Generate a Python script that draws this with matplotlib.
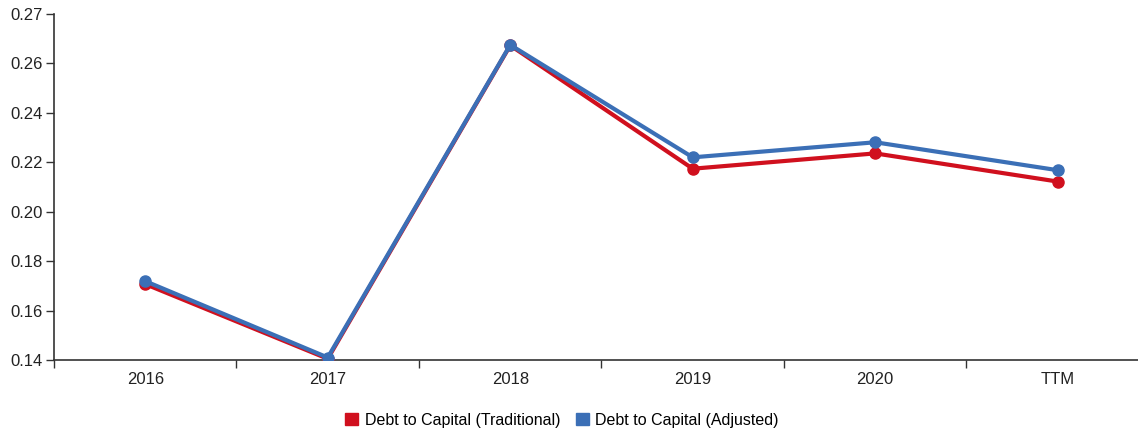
import numpy as np
import matplotlib
matplotlib.use('Agg')
import matplotlib.pyplot as plt
from matplotlib.patches import Patch

plt.rcParams['font.family'] = ['Liberation Sans', 'DejaVu Sans']

periods = ['2016', '2017', '2018', '2019', '2020', 'TTM']
traditional = [0.1707, 0.1405, 0.2673, 0.2174, 0.2236, 0.2122]
adjusted = [0.1719, 0.1410, 0.2675, 0.2220, 0.2281, 0.2168]
y_ticks = [0.14, 0.16, 0.18, 0.20, 0.22, 0.24, 0.26, 0.28]
y_labels = ['0.14', '0.16', '0.18', '0.20', '0.22', '0.24', '0.26', '0.27']

red = '#d0101e'
blue = '#3b6fb6'

fig = plt.figure(figsize=(11.38, 4.32), dpi=100)
ax = fig.add_axes([54 / 1138, 72 / 432, 1084 / 1138, 346 / 432])

x = np.arange(len(periods))
ax.plot(x, traditional, color=red, lw=3, marker='o', ms=8, zorder=3)
ax.plot(x, adjusted, color=blue, lw=3, marker='o', ms=8, zorder=4)

ax.set_xlim(-0.5, 5.44)
ax.set_ylim(0.14, 0.28)

# category labels centred in bands, ticks on band edges
ax.set_xticks(x)
ax.set_xticklabels(periods, fontsize=12, color='#222222')
ax.tick_params(axis='x', which='major', length=0, pad=9)
ax.set_xticks(np.arange(-0.5, 5.0, 1.0), minor=True)
ax.tick_params(axis='x', which='minor', length=6, color='#333333', width=1)

ax.set_yticks(y_ticks)
ax.set_yticklabels(y_labels, fontsize=12, color='#222222')
ax.tick_params(axis='y', length=6, color='#333333', width=1, pad=2)

for side in ['top', 'right']:
    ax.spines[side].set_visible(False)
for side in ['left', 'bottom']:
    ax.spines[side].set_color('#333333')
    ax.spines[side].set_linewidth(1.2)

handles = [Patch(color=red, label='Debt to Capital (Traditional)'),
           Patch(color=blue, label='Debt to Capital (Adjusted)')]
fig.legend(handles=handles, loc='center', bbox_to_anchor=(562 / 1138, 1 - 420 / 432),
           ncol=2, frameon=False, fontsize=11.5, handlelength=0.8, handleheight=0.8,
           handletextpad=0.4, columnspacing=1.0)

plt.savefig('out.png', dpi=100)
